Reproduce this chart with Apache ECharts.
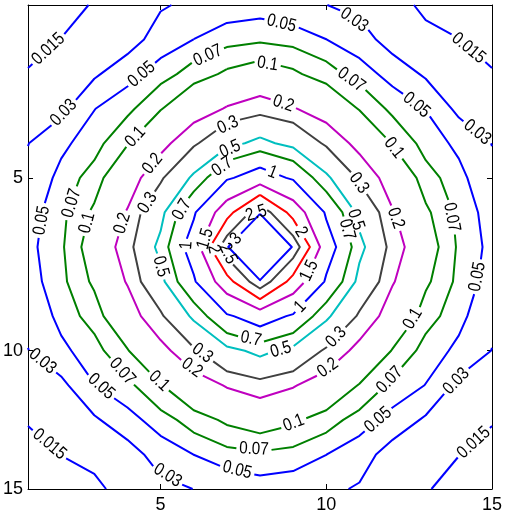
<!DOCTYPE html>
<html>
<head>
<meta charset="utf-8">
<script src="https://cdn.jsdelivr.net/npm/echarts@6/dist/echarts.min.js"></script>
<style>
  html, body { margin: 0; padding: 0; background: #ffffff; }
  #chart { width: 505px; height: 519px; }
</style>
</head>
<body>
<div id="chart"></div>
<script>
// Sample positions of the field
const xValues = [1, 2, 3, 4, 5, 6, 7, 8, 9, 10, 11, 12, 13, 14, 15];
const yValues = [1, 2, 3, 4, 5, 6, 7, 8, 9, 10, 11, 12, 13, 14, 15];

// Field values, one row per y value (row 1 is drawn at the top)
const row01 = [0.006, 0.0112, 0.0158, 0.021, 0.0278, 0.0345, 0.0394, 0.0405, 0.036, 0.0302, 0.024, 0.019, 0.0128, 0.0095, 0.0055];
const row02 = [0.0095, 0.0152, 0.0178, 0.0205, 0.0395, 0.0502, 0.0598, 0.065, 0.0598, 0.0502, 0.0395, 0.0205, 0.0178, 0.0152, 0.0095];
const row03 = [0.0162, 0.021, 0.027, 0.043, 0.059, 0.0815, 0.107, 0.1225, 0.107, 0.0815, 0.059, 0.043, 0.027, 0.021, 0.0162];
const row04 = [0.022, 0.0245, 0.0495, 0.0625, 0.097, 0.148, 0.207, 0.245, 0.207, 0.148, 0.097, 0.0625, 0.0495, 0.0245, 0.022];
const row05 = [0.0295, 0.046, 0.059, 0.097, 0.166, 0.276, 0.437, 0.553, 0.437, 0.276, 0.166, 0.097, 0.059, 0.046, 0.0295];
const row06 = [0.0355, 0.055, 0.0815, 0.148, 0.276, 0.534, 0.95, 1.19, 0.95, 0.534, 0.276, 0.148, 0.0815, 0.055, 0.0355];
const row07 = [0.0413, 0.062, 0.107, 0.207, 0.437, 0.95, 1.8, 2.83, 1.8, 0.95, 0.437, 0.207, 0.107, 0.062, 0.0413];
const row08 = [0.044, 0.065, 0.1225, 0.245, 0.553, 1.19, 2.83, 7.0, 2.83, 1.19, 0.553, 0.245, 0.1225, 0.065, 0.044];
const row09 = [0.0413, 0.062, 0.107, 0.207, 0.437, 0.95, 1.8, 2.83, 1.8, 0.95, 0.437, 0.207, 0.107, 0.062, 0.0413];
const row10 = [0.0355, 0.055, 0.0815, 0.148, 0.276, 0.534, 0.95, 1.19, 0.95, 0.534, 0.276, 0.148, 0.0815, 0.055, 0.0355];
const row11 = [0.0295, 0.046, 0.059, 0.097, 0.166, 0.276, 0.437, 0.553, 0.437, 0.276, 0.166, 0.097, 0.059, 0.046, 0.0295];
const row12 = [0.022, 0.0245, 0.0495, 0.0625, 0.097, 0.148, 0.207, 0.245, 0.207, 0.148, 0.097, 0.0625, 0.0495, 0.0245, 0.022];
const row13 = [0.0162, 0.021, 0.027, 0.043, 0.059, 0.0815, 0.107, 0.1225, 0.107, 0.0815, 0.059, 0.043, 0.027, 0.021, 0.0162];
const row14 = [0.0095, 0.0152, 0.0178, 0.0205, 0.0395, 0.0502, 0.0598, 0.065, 0.0598, 0.0502, 0.0395, 0.0205, 0.0178, 0.0152, 0.0095];
const row15 = [0.0055, 0.0095, 0.0128, 0.019, 0.024, 0.0302, 0.036, 0.0405, 0.0394, 0.0345, 0.0278, 0.021, 0.0158, 0.0112, 0.006];

// Contour levels and their inline labels
const contourLevels = [0.015, 0.03, 0.05, 0.07, 0.1, 0.2, 0.3, 0.5, 0.7, 1, 1.5, 2, 2.5, 3];
const levelLabels = ['0.015', '0.03', '0.05', '0.07', '0.1', '0.2', '0.3', '0.5', '0.7', '1', '1.5', '2', '2.5', '3'];

// Axis ticks
const xTickValues = [5, 10, 15];
const xTickLabels = ['5', '10', '15'];
const yTickValues = [6, 11, 15];
const yTickLabels = ['5', '10', '15'];

const fieldRows = [row01, row02, row03, row04, row05, row06, row07, row08,
                   row09, row10, row11, row12, row13, row14, row15];

// ---- styling -------------------------------------------------------------
const BLUE = '#0000ff', GREEN = '#008000', MAGENTA = '#bf00bf',
      GREY = '#404040', CYAN = '#00bfbf', RED = '#ff0000';
const levelColors = [BLUE, BLUE, BLUE, GREEN, GREEN, MAGENTA, GREY, CYAN,
                     GREEN, BLUE, MAGENTA, RED, GREY, BLUE];
const FONT_FAMILY = "'Liberation Sans', Arial, sans-serif";
const TICK_FONT = 18;
const LABEL_FONT = 18;
const LABEL_SQUEEZE = 0.84;   // condensed look of the inline labels

// Where each level carries its inline labels (snapped onto the traced line)
const labelSpots = [
  [[1.78, 2.45], [14.10, 2.45], [1.84, 13.50], [14.19, 13.38]],
  [[2.08, 4.12], [1.39, 11.36], [5.13, 14.74], [10.81, 1.58], [14.49, 4.76], [13.89, 11.85]],
  [[1.33, 7.22], [4.44, 3.02], [8.63, 1.64], [12.67, 3.98], [14.61, 8.87], [11.62, 13.06], [7.31, 14.45], [3.27, 11.93]],
  [[6.38, 2.36], [2.29, 6.73], [3.72, 11.70], [7.82, 13.87], [12.01, 11.93], [13.80, 7.13], [10.75, 3.17]],
  [[8.21, 2.74], [4.08, 4.67], [2.68, 7.28], [4.77, 12.05], [9.08, 13.21], [12.76, 10.17], [12.16, 5.05]],
  [[8.72, 3.81], [4.62, 5.48], [3.72, 7.28], [5.82, 11.64], [10.15, 11.62], [12.22, 7.13]],
  [[6.98, 4.38], [4.47, 6.64], [6.18, 11.18], [10.39, 10.69], [11.14, 6.06]],
  [[7.07, 5.11], [4.92, 8.58], [8.63, 10.98], [10.81, 7.22]],
  [[6.83, 5.63], [5.64, 6.93], [7.73, 10.69], [10.57, 7.51]],
  [[8.36, 5.89], [5.67, 7.94], [9.23, 9.74]],
  [[6.38, 7.80], [9.56, 8.72]],
  [[9.23, 7.57], [6.59, 8.03]],
  [[7.91, 6.93], [6.89, 8.23]],
  [[7.25, 7.74]]
];

const chart = echarts.init(document.getElementById('chart'), null, { renderer: 'canvas' });

const pickLabel = (values, labels) => v => {
  const i = values.findIndex(t => Math.abs(t - v) < 1e-9);
  return i >= 0 ? labels[i] : '';
};

function makeXAxis(position, showLabels) {
  return {
    type: 'value', gridIndex: 0, position, min: 1, max: 15,
    axisLine: { show: true, onZero: false, lineStyle: { color: '#000', width: 1 } },
    axisTick: { show: true, inside: true, length: 5, customValues: xTickValues, lineStyle: { color: '#000', width: 1 } },
    axisLabel: {
      show: showLabels, customValues: xTickValues, formatter: pickLabel(xTickValues, xTickLabels),
      color: '#000', fontFamily: FONT_FAMILY, fontSize: TICK_FONT, margin: 7
    },
    splitLine: { show: false }
  };
}
function makeYAxis(position, showLabels) {
  return {
    type: 'value', gridIndex: 0, position, min: 1, max: 15, inverse: true,
    axisLine: { show: true, onZero: false, lineStyle: { color: '#000', width: 1 } },
    axisTick: { show: true, inside: true, length: 5, customValues: yTickValues, lineStyle: { color: '#000', width: 1 } },
    axisLabel: {
      show: showLabels, customValues: yTickValues, formatter: pickLabel(yTickValues, yTickLabels),
      color: '#000', fontFamily: FONT_FAMILY, fontSize: TICK_FONT, margin: 5
    },
    splitLine: { show: false }
  };
}

chart.setOption({
  animation: false,
  backgroundColor: '#ffffff',
  grid: { left: 27, right: 10, top: 5, bottom: 30, containLabel: false },
  xAxis: [makeXAxis('bottom', true), makeXAxis('top', false)],
  yAxis: [makeYAxis('left', true), makeYAxis('right', false)],
  series: [{ type: 'scatter', xAxisIndex: 0, yAxisIndex: 0, data: [], silent: true }]
});

// ---- marching squares over the sampled field -----------------------------
function traceContours(level) {
  const nRows = fieldRows.length, nCols = fieldRows[0].length;
  const crossing = new Map();
  const links = new Map();
  const edgePoint = (key, r1, c1, r2, c2) => {
    if (!crossing.has(key)) {
      const a = fieldRows[r1][c1], b = fieldRows[r2][c2];
      const t = (level - a) / (b - a);
      crossing.set(key, [
        xValues[c1] + t * (xValues[c2] - xValues[c1]),
        yValues[r1] + t * (yValues[r2] - yValues[r1])
      ]);
    }
    return key;
  };
  const link = (a, b) => {
    if (!links.has(a)) links.set(a, []);
    if (!links.has(b)) links.set(b, []);
    links.get(a).push(b);
    links.get(b).push(a);
  };
  const up = v => v > level;
  for (let r = 0; r < nRows - 1; r++) {
    for (let c = 0; c < nCols - 1; c++) {
      const tl = fieldRows[r][c], tr = fieldRows[r][c + 1];
      const bl = fieldRows[r + 1][c], br = fieldRows[r + 1][c + 1];
      const top = up(tl) !== up(tr) ? edgePoint(`h${r}_${c}`, r, c, r, c + 1) : null;
      const right = up(tr) !== up(br) ? edgePoint(`v${r}_${c + 1}`, r, c + 1, r + 1, c + 1) : null;
      const bottom = up(bl) !== up(br) ? edgePoint(`h${r + 1}_${c}`, r + 1, c, r + 1, c + 1) : null;
      const left = up(tl) !== up(bl) ? edgePoint(`v${r}_${c}`, r, c, r + 1, c) : null;
      const hits = [top, right, bottom, left].filter(k => k !== null);
      if (hits.length === 2) {
        link(hits[0], hits[1]);
      } else if (hits.length === 4) {
        const centre = (tl + tr + bl + br) / 4;
        if (up(centre) === up(tl)) { link(top, right); link(bottom, left); }
        else { link(left, top); link(right, bottom); }
      }
    }
  }
  const used = new Set();
  const paths = [];
  const walk = start => {
    const keys = [start];
    used.add(start);
    let cur = start;
    for (;;) {
      const next = links.get(cur).find(k => !used.has(k));
      if (next === undefined) break;
      used.add(next);
      keys.push(next);
      cur = next;
    }
    const closed = keys.length > 2 && links.get(cur).includes(start);
    if (closed) keys.push(start);
    return { closed, points: keys.map(k => crossing.get(k)) };
  };
  for (const [k, nb] of links) if (nb.length === 1 && !used.has(k)) paths.push(walk(k));
  for (const k of links.keys()) if (!used.has(k)) paths.push(walk(k));
  return paths;
}

// ---- helpers in screen space -------------------------------------------
const toPx = p => chart.convertToPixel({ gridIndex: 0 }, p);
const toData = p => chart.convertFromPixel({ gridIndex: 0 }, p);

function arcLengths(pts) {
  const cum = [0];
  for (let i = 1; i < pts.length; i++) {
    cum.push(cum[i - 1] + Math.hypot(pts[i][0] - pts[i - 1][0], pts[i][1] - pts[i - 1][1]));
  }
  return cum;
}
function pointAt(pts, cum, s, closed) {
  const T = cum[cum.length - 1];
  if (closed) s = ((s % T) + T) % T;
  else s = Math.max(0, Math.min(T, s));
  let i = 1;
  while (i < cum.length - 1 && cum[i] < s) i++;
  const seg = (cum[i] - cum[i - 1]) || 1;
  const t = (s - cum[i - 1]) / seg;
  return [pts[i - 1][0] + t * (pts[i][0] - pts[i - 1][0]),
          pts[i - 1][1] + t * (pts[i][1] - pts[i - 1][1])];
}
function nearestOn(pts, cum, q) {
  let best = { d: Infinity, s: 0 };
  for (let i = 1; i < pts.length; i++) {
    const ax = pts[i - 1][0], ay = pts[i - 1][1];
    const dx = pts[i][0] - ax, dy = pts[i][1] - ay;
    const len2 = dx * dx + dy * dy || 1;
    const t = Math.max(0, Math.min(1, ((q[0] - ax) * dx + (q[1] - ay) * dy) / len2));
    const d = Math.hypot(ax + t * dx - q[0], ay + t * dy - q[1]);
    if (d < best.d) best = { d, s: cum[i - 1] + t * (cum[i] - cum[i - 1]) };
  }
  return best;
}
function splitAround(pts, cum, closed, cuts) {
  const T = cum[cum.length - 1];
  const spans = [];
  cuts.forEach(([a, b]) => {
    spans.push([a, b]);
    if (closed) { spans.push([a - T, b - T]); spans.push([a + T, b + T]); }
  });
  const inside = s => spans.some(([a, b]) => s > a && s < b);
  const marks = new Set(cum);
  spans.forEach(([a, b]) => {
    if (a > 0 && a < T) marks.add(a);
    if (b > 0 && b < T) marks.add(b);
  });
  const ss = [...marks].sort((p, q) => p - q);
  const pieces = [];
  let cur = [];
  for (let i = 0; i < ss.length - 1; i++) {
    const a = ss[i], b = ss[i + 1];
    if (b - a < 1e-9) continue;
    if (inside((a + b) / 2)) {
      if (cur.length > 1) pieces.push(cur);
      cur = [];
    } else {
      if (!cur.length) cur.push(pointAt(pts, cum, a, false));
      cur.push(pointAt(pts, cum, b, false));
    }
  }
  if (cur.length > 1) pieces.push(cur);
  return pieces;
}

const measureCtx = document.createElement('canvas').getContext('2d');
measureCtx.font = `${LABEL_FONT}px ${FONT_FAMILY}`;
const textWidth = t => measureCtx.measureText(t).width * LABEL_SQUEEZE;

// ---- build series ------------------------------------------------------
const series = [];
const labelItems = [];
const labelTexts = [];

contourLevels.forEach((level, li) => {
  const text = levelLabels[li];
  const paths = traceContours(level).map(p => {
    const px = p.points.map(toPx);
    return { closed: p.closed, px, cum: arcLengths(px), cuts: [] };
  });
  (labelSpots[li] || []).forEach(spot => {
    const q = toPx(spot);
    let best = null;
    paths.forEach(path => {
      const n = nearestOn(path.px, path.cum, q);
      if (!best || n.d < best.d) best = { path, s: n.s, d: n.d };
    });
    if (!best) return;
    const w = textWidth(text) + 6;
    const { path, s } = best;
    const p0 = pointAt(path.px, path.cum, s - w / 2, path.closed);
    const p1 = pointAt(path.px, path.cum, s + w / 2, path.closed);
    const centre = [(p0[0] + p1[0]) / 2, (p0[1] + p1[1]) / 2];
    let ang = Math.atan2(-(p1[1] - p0[1]), p1[0] - p0[0]);
    if (ang > Math.PI / 2) ang -= Math.PI;
    if (ang <= -Math.PI / 2) ang += Math.PI;
    path.cuts.push([s - w / 2, s + w / 2]);
    const c = toData(centre);
    labelItems.push([c[0], c[1], ang]);
    labelTexts.push(text);
  });
  const pieces = [];
  paths.forEach(path => {
    splitAround(path.px, path.cum, path.closed, path.cuts)
      .forEach(pc => pieces.push({ coords: pc.map(toData) }));
  });
  series.push({
    name: text,
    type: 'lines',
    coordinateSystem: 'cartesian2d',
    xAxisIndex: 0, yAxisIndex: 0,
    polyline: true,
    silent: true,
    lineStyle: { color: levelColors[li], width: 2, opacity: 1, curveness: 0, join: 'round' },
    data: pieces,
    z: 2
  });
});

series.push({
  type: 'custom',
  coordinateSystem: 'cartesian2d',
  xAxisIndex: 0, yAxisIndex: 0,
  silent: true,
  data: labelItems,
  z: 5,
  renderItem: (params, api) => {
    const p = api.coord([api.value(0), api.value(1)]);
    return {
      type: 'text',
      x: p[0], y: p[1],
      rotation: api.value(2),
      scaleX: LABEL_SQUEEZE,
      style: {
        text: labelTexts[params.dataIndex],
        fill: '#000',
        fontFamily: FONT_FAMILY,
        fontSize: LABEL_FONT,
        align: 'center',
        verticalAlign: 'middle'
      }
    };
  }
});

chart.setOption({ series: series.concat([{ type: 'scatter', data: [] }]) }, { replaceMerge: ['series'] });
</script>
</body>
</html>
